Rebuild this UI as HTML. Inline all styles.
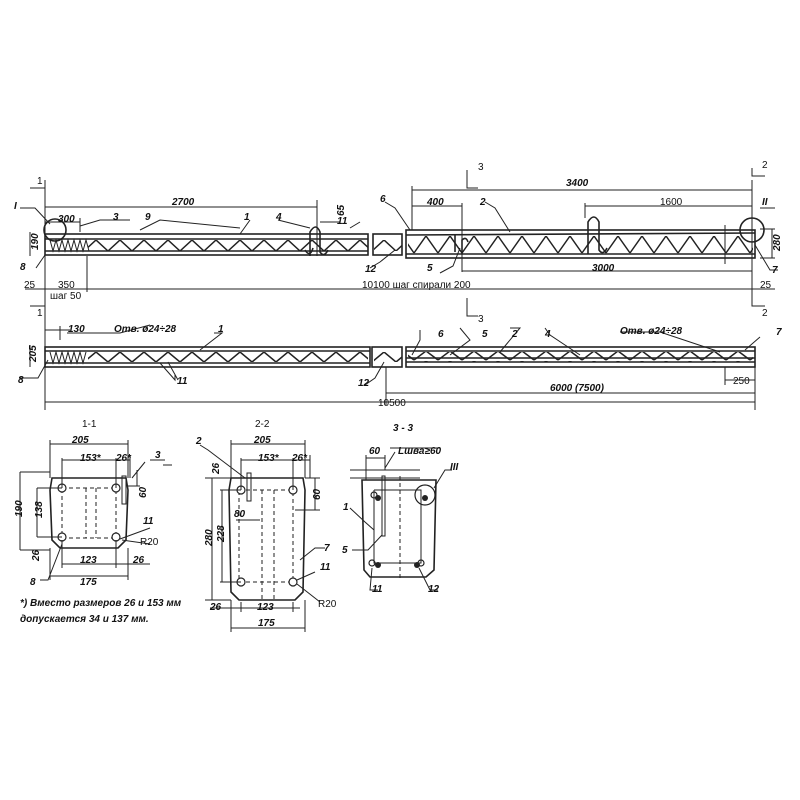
<!DOCTYPE html>
<html><head><meta charset="utf-8"><style>
html,body{margin:0;padding:0;background:#fff}
svg{display:block}
text{font-family:"Liberation Sans",sans-serif;font-size:10px;fill:#111}
.i{font-style:italic;font-weight:bold}
</style></head><body>
<svg width="800" height="800" viewBox="0 0 800 800" xmlns="http://www.w3.org/2000/svg">
<defs>
<pattern id="zA" x="0" y="240" width="24" height="12" patternUnits="userSpaceOnUse"><path d="M0,0 L12,11 L24,0" fill="none" stroke="#222" stroke-width="1.5"/></pattern>
<pattern id="zB" x="6" y="236" width="24" height="18" patternUnits="userSpaceOnUse"><path d="M0,17 L12,0 L24,17" fill="none" stroke="#222" stroke-width="1.5"/></pattern>
<pattern id="zC" x="0" y="352" width="24" height="11" patternUnits="userSpaceOnUse"><path d="M0,0 L12,10 L24,0" fill="none" stroke="#222" stroke-width="1.5"/></pattern>
<pattern id="zD" x="6" y="351" width="24" height="10" patternUnits="userSpaceOnUse"><path d="M0,9 L12,0 L24,9" fill="none" stroke="#222" stroke-width="1.5"/></pattern>
</defs>
<g stroke="#222" fill="none" stroke-width="1.6">
<rect x="45" y="234" width="323" height="21"/>
<line x1="45" y1="239" x2="368" y2="239"/><line x1="45" y1="251" x2="368" y2="251"/>
<rect x="373" y="234" width="29" height="21"/>
<rect x="406" y="230" width="349" height="28"/>
<line x1="406" y1="235" x2="755" y2="233"/><line x1="406" y1="254" x2="755" y2="254"/>
</g>
<rect x="88" y="240" width="280" height="11" fill="url(#zA)"/>
<rect x="374" y="240" width="28" height="11" fill="url(#zA)"/>
<rect x="408" y="236" width="345" height="18" fill="url(#zB)"/>
<g stroke="#222" stroke-width="1" fill="none"><path d="M50,240 L53,251 L56,240 L59,251 L62,240 L65,251 L68,240 L71,251 L74,240 L77,251 L80,240 L83,251 L86,240 L89,251"/>
<path d="M50,352 L53,363 L56,352 L59,363 L62,352 L65,363 L68,352 L71,363 L74,352 L77,363 L80,352 L83,363 L86,352"/></g>
<g stroke="#222" fill="none" stroke-width="1.6">
<rect x="45" y="347" width="325" height="20"/>
<line x1="45" y1="351" x2="370" y2="351"/><line x1="45" y1="363" x2="370" y2="363"/>
<rect x="372" y="347" width="30" height="20"/>
<rect x="406" y="347" width="349" height="20"/>
<line x1="406" y1="351" x2="755" y2="351"/><line x1="406" y1="362" x2="755" y2="362"/><line x1="406" y1="358" x2="755" y2="358"/>
<path d="M310,256 L310,232 Q316,222 320,232 L320,252 Q324,258 328,250"/><path d="M305,250 Q310,258 313,248"/>
<path d="M588,254 L588,222 Q594,212 599,222 L599,250 Q603,256 607,248"/>
<path d="M455,252 L455,234 M462,254 L462,240 Q466,236 468,242"/>
<circle cx="55" cy="230" r="11"/><circle cx="752" cy="230" r="12"/>
</g>
<rect x="408" y="352" width="345" height="10" fill="url(#zD)"/>
<rect x="88" y="352" width="280" height="10" fill="url(#zC)"/>
<rect x="374" y="352" width="28" height="10" fill="url(#zC)"/>
<g stroke="#222" stroke-width="1" fill="none">
<line x1="45" y1="180" x2="45" y2="410"/>
<line x1="45" y1="207" x2="317" y2="207"/><line x1="317" y1="200" x2="317" y2="256"/>
<line x1="45" y1="222" x2="80" y2="222"/><line x1="80" y1="218" x2="80" y2="232"/>
<line x1="320" y1="222" x2="340" y2="222"/>
<line x1="30" y1="232" x2="30" y2="256"/>
<line x1="25" y1="289" x2="775" y2="289"/><line x1="87" y1="256" x2="87" y2="292"/>
<line x1="412" y1="190" x2="752" y2="190"/><line x1="412" y1="186" x2="412" y2="230"/>
<line x1="412" y1="206" x2="462" y2="206"/><line x1="462" y1="203" x2="462" y2="272"/>
<line x1="585" y1="206" x2="752" y2="206"/><line x1="585" y1="203" x2="585" y2="218"/>
<line x1="462" y1="271" x2="752" y2="271"/>
<line x1="752" y1="180" x2="752" y2="300"/><line x1="760" y1="229" x2="775" y2="229"/><line x1="760" y1="258" x2="775" y2="258"/><line x1="772" y1="229" x2="772" y2="258"/>
<line x1="725" y1="225" x2="725" y2="264"/>
<line x1="45" y1="330" x2="70" y2="330"/><line x1="60" y1="326" x2="60" y2="340"/>
<line x1="30" y1="345" x2="30" y2="367"/>
<line x1="386" y1="393" x2="755" y2="393"/><line x1="386" y1="367" x2="386" y2="405"/>
<line x1="45" y1="402" x2="755" y2="402"/><line x1="755" y1="367" x2="755" y2="410"/>
<line x1="725" y1="367" x2="725" y2="385"/><line x1="725" y1="380" x2="755" y2="380"/>
<path d="M30,188 L45,188 M45,180 L45,196 M30,306 L45,306 M45,298 L45,314 M467,170 L467,188 L478,188 M467,298 L467,316 L478,316 M752,168 L752,176 L765,176 M752,300 L752,306 L765,306"/>
<path d="M20,208 L35,208 L50,224 M80,226 L100,220 L130,220 M140,230 L160,220 L240,228 M250,220 L240,234 M278,220 L310,228 M350,228 L360,222 M385,202 L395,208 L410,230 M485,202 L495,208 L510,232 M440,273 L453,266 L460,248 M760,208 L775,208 M755,245 L770,270 L778,270 M36,268 L45,255 M370,268 L380,262 L395,250"/>
<path d="M20,378 L38,378 L48,360 M67,333 L120,333 L150,325 M214,333 L222,333 L200,350 M175,375 L175,380 L160,363 M178,380 L168,362 M460,328 L470,340 L450,355 M510,328 L520,328 L500,352 M545,328 L550,335 L580,355 M620,332 L660,332 L720,352 M760,337 L745,350 M420,330 L420,340 L412,355 M365,385 L375,378 L384,362"/>
</g>
<text x="37" y="184">1</text><text x="37" y="316">1</text>
<text x="14" y="209" class="i">I</text>
<text x="172" y="205" class="i">2700</text>
<text x="58" y="222" class="i">300</text>
<text x="113" y="220" class="i">3</text><text x="145" y="220" class="i">9</text><text x="244" y="220" class="i">1</text>
<text x="276" y="220" class="i">4</text>
<text x="337" y="224" class="i">11</text>
<text x="24" y="252" transform="rotate(-90 30 244)" class="i">190</text>
<text x="330" y="218" transform="rotate(-90 336 210)" class="i">65</text>
<text x="20" y="270" class="i">8</text><text x="365" y="272" class="i">12</text>
<text x="24" y="288">25</text><text x="58" y="288">350</text>
<text x="50" y="299">шаг  50</text>
<text x="362" y="288">10100  шаг  спирали  200</text>
<text x="478" y="170">3</text><text x="478" y="322">3</text>
<text x="762" y="168">2</text><text x="762" y="316">2</text>
<text x="566" y="186" class="i">3400</text>
<text x="427" y="205" class="i">400</text><text x="480" y="205" class="i">2</text>
<text x="660" y="205">1600</text>
<text x="380" y="202" class="i">6</text>
<text x="762" y="205" class="i">II</text>
<text x="765" y="252" transform="rotate(-90 772 244)" class="i">280</text>
<text x="772" y="273" class="i">7</text>
<text x="592" y="271" class="i">3000</text>
<text x="427" y="271" class="i">5</text>
<text x="760" y="288">25</text>
<text x="68" y="332" class="i">130</text>
<text x="114" y="332" class="i">Отв. ø24÷28</text>
<text x="218" y="332" class="i">1</text>
<text x="24" y="362" transform="rotate(-90 30 356)" class="i">205</text>
<text x="18" y="383" class="i">8</text><text x="177" y="384" class="i">11</text>
<text x="358" y="386" class="i">12</text><text x="378" y="406">10500</text>
<text x="438" y="337" class="i">6</text><text x="482" y="337" class="i">5</text><text x="512" y="337" class="i">2</text><text x="545" y="337" class="i">4</text>
<text x="620" y="334" class="i">Отв. ø24÷28</text><text x="776" y="335" class="i">7</text>
<text x="550" y="391" class="i">6000  (7500)</text><text x="733" y="384">250</text>
<text x="82" y="427">1-1</text><text x="255" y="427">2-2</text><text x="393" y="431" class="i">3 - 3</text>
<g stroke="#222" fill="none" stroke-width="1.6">
<path d="M52,478 L126,478 L128,490 L126,540 L118,548 L60,548 L52,540 L50,490 Z"/>
<path d="M231,478 L303,478 L305,490 L303,592 L295,600 L239,600 L231,592 L229,490 Z"/>
<path d="M362,480 L436,480 L434,570 L426,577 L370,577 L364,570 Z"/>
</g>
<g stroke="#222" fill="none" stroke-width="1" stroke-dasharray="4,3">
<rect x="62" y="488" width="54" height="50"/><line x1="86" y1="488" x2="86" y2="538"/><line x1="96" y1="488" x2="96" y2="538"/>
<rect x="239" y="490" width="54" height="92"/><line x1="262" y1="490" x2="262" y2="600"/><line x1="274" y1="490" x2="274" y2="600"/>
<line x1="400" y1="476" x2="400" y2="580"/>
</g>
<g stroke="#222" fill="#fff" stroke-width="1.2">
<circle cx="62" cy="488" r="4"/><circle cx="116" cy="488" r="4"/><circle cx="62" cy="537" r="4"/><circle cx="116" cy="537" r="4"/>
<circle cx="241" cy="490" r="4"/><circle cx="293" cy="490" r="4"/><circle cx="241" cy="582" r="4"/><circle cx="293" cy="582" r="4"/>
<circle cx="374" cy="495" r="3"/><circle cx="425" cy="495" r="10" fill="none"/><circle cx="372" cy="563" r="3"/><circle cx="421" cy="563" r="3"/>
</g>
<g fill="#222"><circle cx="378" cy="498" r="3"/><circle cx="425" cy="498" r="3"/><circle cx="378" cy="565" r="3"/><circle cx="417" cy="565" r="3"/></g>
<g stroke="#222" fill="none" stroke-width="1">
<rect x="122" y="476" width="4" height="28"/><rect x="247" y="473" width="4" height="28"/><rect x="382" y="476" width="3" height="60"/>
<path d="M374,490 L374,563 L421,563 L421,490 L374,490"/>
<path d="M50,440 L50,478 M128,440 L128,478 M50,444 L128,444 M62,458 L62,488 M116,458 L116,488 M62,460 L116,460 M116,460 L130,460 M130,455 L130,478 M20,472 L50,472 M20,472 L20,550 M37,488 L62,488 M37,488 L37,537 M37,537 L62,537 M20,550 L50,550 M50,548 L50,580 M128,548 L128,580 M50,576 L128,576 M62,540 L62,568 M116,540 L116,568 M62,564 L150,564 M128,486 L140,486 M137,470 L137,486"/>
<path d="M231,440 L231,478 M305,440 L305,478 M231,444 L305,444 M241,458 L241,490 M293,458 L293,490 M241,460 L310,460 M310,455 L310,478 M205,478 L231,478 M212,478 L212,600 M205,600 L231,600 M220,490 L241,490 M222,490 L222,582 M220,582 L241,582 M305,478 L320,478 M315,478 L315,510 M295,510 L320,510 M231,600 L231,632 M305,600 L305,632 M231,628 L305,628 M241,602 L241,612 M293,602 L293,612 M210,608 L300,608 M236,520 L260,520"/>
<path d="M366,455 L366,480 M385,455 L385,470 M366,458 L385,458 M350,470 L420,470 M350,478 L420,478 M390,448 L440,448 M385,468 L395,452"/>
<path d="M150,460 L165,460 M132,478 L145,462 M163,465 L172,465 M120,539 L150,528 M122,540 L150,544 M62,544 L48,580 L40,580 M200,445 L208,450 L245,478 M300,560 L315,548 L325,548 M297,580 L315,572 M297,584 L320,602 M350,508 L365,522 L374,530 M352,550 L368,550 L382,535 M372,568 L370,590 L378,590 M419,568 L430,590 L438,590 M434,488 L445,470 L452,470"/>
</g>
<text x="72" y="443" class="i">205</text><text x="80" y="461" class="i">153*</text><text x="116" y="461" class="i">26*</text>
<text x="155" y="458" class="i">3</text><text x="134" y="498" transform="rotate(-90 140 492)" class="i">60</text>
<text x="10" y="515" transform="rotate(-90 17 510)" class="i">190</text><text x="28" y="520" transform="rotate(-90 34 512)" class="i">138</text>
<text x="28" y="560" transform="rotate(-90 34 555)" class="i">26</text>
<text x="143" y="524" class="i">11</text><text x="140" y="545">R20</text>
<text x="80" y="563" class="i">123</text><text x="133" y="563" class="i">26</text>
<text x="80" y="585" class="i">175</text><text x="30" y="585" class="i">8</text>
<text x="254" y="443" class="i">205</text><text x="258" y="461" class="i">153*</text><text x="292" y="461" class="i">26*</text>
<text x="196" y="444" class="i">2</text>
<text x="205" y="472" transform="rotate(-90 213 466)" class="i">26</text>
<text x="198" y="548" transform="rotate(-90 204 540)" class="i">280</text><text x="210" y="544" transform="rotate(-90 216 536)" class="i">228</text>
<text x="308" y="500" transform="rotate(-90 314 494)" class="i">60</text><text x="234" y="517" class="i">80</text>
<text x="324" y="551" class="i">7</text><text x="320" y="570" class="i">11</text><text x="318" y="607">R20</text>
<text x="210" y="610" class="i">26</text><text x="257" y="610" class="i">123</text><text x="258" y="626" class="i">175</text>
<text x="369" y="454" class="i">60</text><text x="398" y="454" class="i">Lшва≥60</text>
<text x="450" y="470" class="i">III</text><text x="343" y="510" class="i">1</text><text x="342" y="553" class="i">5</text>
<text x="372" y="592" class="i">11</text><text x="428" y="592" class="i">12</text>
<text x="20" y="606" class="i">*) Вместо размеров 26 и 153 мм</text>
<text x="20" y="622" class="i">допускается 34 и 137 мм.</text>
</svg>
</body></html>
